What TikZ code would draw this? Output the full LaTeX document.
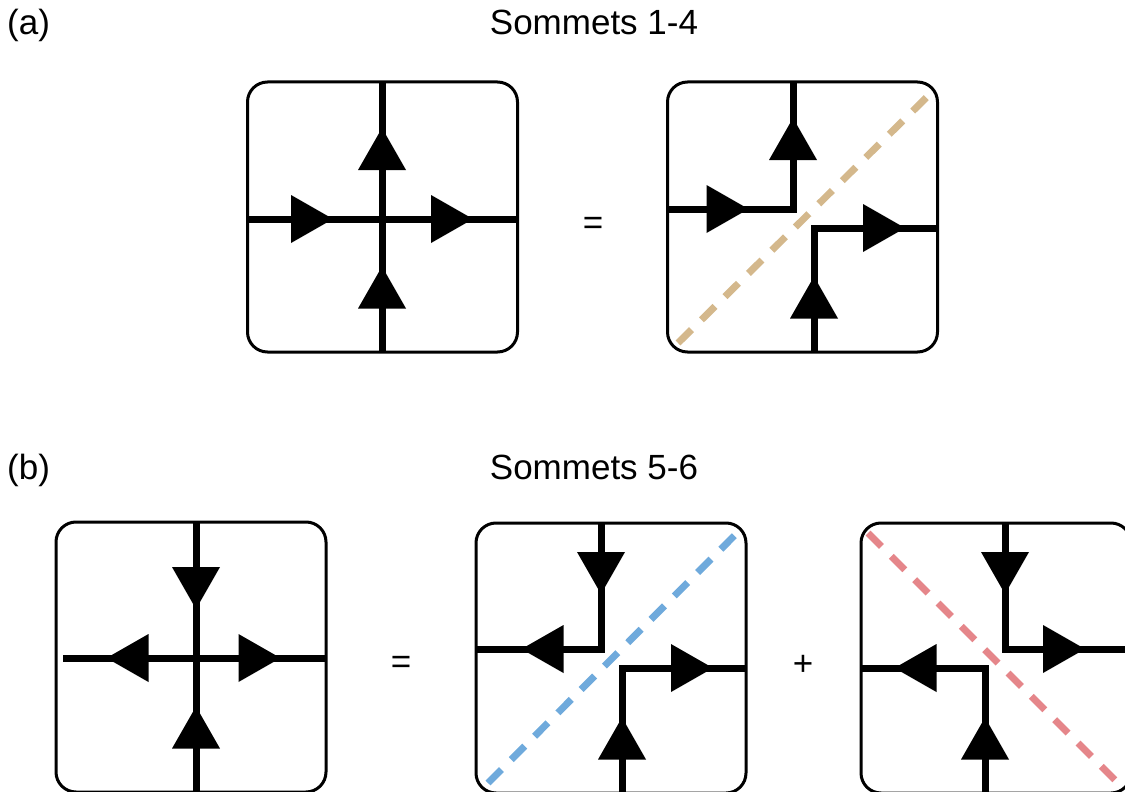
\documentclass[tikz,border=0pt]{standalone}
\usepackage{fontspec}
\setmainfont{Liberation Sans}
\definecolor{dtan}{RGB}{212,184,140}
\definecolor{dblue}{RGB}{111,170,220}
\definecolor{dred}{RGB}{229,134,138}
\tikzset{
  box/.style={draw, line width=3pt, rounded corners=20pt, minimum width=270pt, minimum height=270pt, inner sep=0pt},
  wire/.style={line width=7pt},
  diag/.style={line width=7pt, dash pattern=on 19pt off 14pt},
  lab/.style={font=\fontsize{35}{42}\selectfont, inner sep=0pt, anchor=base},
  tri/.pic={\fill (-21,24) -- (21,0) -- (-21,-24) -- cycle;}
}
\begin{document}
\begin{tikzpicture}[x=1pt,y=-1pt]
\useasboundingbox (0,0) rectangle (1125,792);
\clip (0,0) rectangle (1125,792);
% labels
\node[lab, anchor=base west] (la) at (7,35) {(a)};
\node[lab] (ta) at (594,35) {Sommets 1-4};
\node[lab, anchor=base west] (lb) at (7,479) {(b)};
\node[lab] (tb) at (594,479) {Sommets 5-6};
\node[lab] (eqa) at (593,234) {=};
\node[lab] (eqb) at (401,673) {=};
\node[lab] (plus) at (803,675) {+};

% ---------- box 1 ----------
\node[box] (B1) at (382.5,217) {};
\coordinate (b1l) at (246,219); \coordinate (b1r) at (519,219);
\coordinate (b1t) at (382,81);  \coordinate (b1b) at (382,353);
\draw[wire] (b1l) -- (b1r);
\draw[wire] (b1b) -- (b1t);
\pic at (312,219) {tri};
\pic at (452,219) {tri};
\pic[rotate=90] at (382,149) {tri};
\pic[rotate=90] at (382,287.5) {tri};

% ---------- box 2 ----------
\node[box] (B2) at (802.5,217) {};
\draw[diag, dtan] (678,343) -- (932,92);
\coordinate (c2a) at (666,209); \coordinate (c2b) at (793,209); \coordinate (c2c) at (793,81);
\coordinate (c2d) at (814,353); \coordinate (c2e) at (814,228); \coordinate (c2f) at (939,228);
\draw[wire] (c2a) -- (c2b) -- (c2c);
\draw[wire] (c2d) -- (c2e) -- (c2f);
\pic at (727.5,209) {tri};
\pic[rotate=90] at (793,139) {tri};
\pic at (884,228) {tri};
\pic[rotate=90] at (814,297.5) {tri};

% ---------- box 3 ----------
\node[box] (B3) at (191,657) {};
\coordinate (b3l) at (63,658); \coordinate (b3r) at (326,658);
\coordinate (b3t) at (196,521); \coordinate (b3b) at (196,794);
\draw[wire] (b3l) -- (b3r);
\draw[wire] (b3t) -- (b3b);
\pic[rotate=-90] at (196,588) {tri};
\pic[rotate=180] at (127.5,658) {tri};
\pic at (259.5,658) {tri};
\pic[rotate=90] at (196,727.5) {tri};

% ---------- box 4 ----------
\node[box] (B4) at (611,658) {};
\draw[diag, dblue] (488,783) -- (738,532);
\coordinate (c4a) at (475,649); \coordinate (c4b) at (601,649); \coordinate (c4c) at (601,522);
\coordinate (c4d) at (622,794); \coordinate (c4e) at (622,668); \coordinate (c4f) at (747,668);
\draw[wire] (c4a) -- (c4b) -- (c4c);
\draw[wire] (c4d) -- (c4e) -- (c4f);
\pic[rotate=-90] at (601,573) {tri};
\pic[rotate=180] at (542.5,649) {tri};
\pic at (692,668) {tri};
\pic[rotate=90] at (622,738.5) {tri};

% ---------- box 5 ----------
\node[box] (B5) at (996,658) {};
\draw[diag, dred] (868,533) -- (1120,785);
\coordinate (c5a) at (1005,522); \coordinate (c5b) at (1005,649); \coordinate (c5c) at (1132,649);
\coordinate (c5d) at (860,668); \coordinate (c5e) at (985,668); \coordinate (c5f) at (985,794);
\draw[wire] (c5a) -- (c5b) -- (c5c);
\draw[wire] (c5d) -- (c5e) -- (c5f);
\pic[rotate=-90] at (1005,573) {tri};
\pic at (1064,649) {tri};
\pic[rotate=180] at (915.5,668) {tri};
\pic[rotate=90] at (985,738.5) {tri};
\end{tikzpicture}
\end{document}
